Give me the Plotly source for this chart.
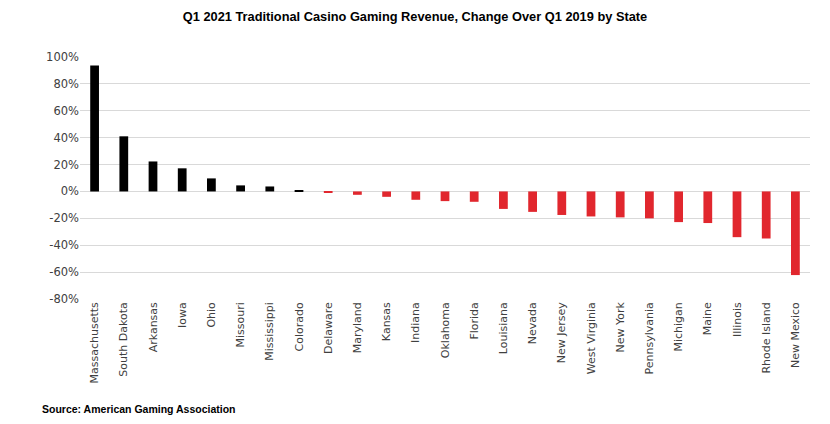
import plotly.graph_objects as go

states = ["Massachusetts", "South Dakota", "Arkansas", "Iowa", "Ohio", "Missouri",
          "Mississippi", "Colorado", "Delaware", "Maryland", "Kansas", "Indiana",
          "Oklahoma", "Florida", "Louisiana", "Nevada", "New Jersey", "West Virginia",
          "New York", "Pennsylvania", "Michigan", "Maine", "Illinois", "Rhode Island",
          "New Mexico"]
change_pct = [93.7, 41.0, 22.3, 17.2, 9.7, 4.5, 3.7, 0.7, -1.0, -2.5, -4.0, -6.2,
              -7.2, -7.7, -13.0, -15.2, -17.5, -18.6, -19.3, -20.0, -22.8, -23.5,
              -34.0, -35.0, -62.2]
y_ticks = [100, 80, 60, 40, 20, 0, -20, -40, -60, -80]

colors = ["#000000" if v >= 0 else "#E1272E" for v in change_pct]

COND = "Liberation Sans Narrow, Liberation Sans, Arial, sans-serif"

fig = go.Figure(go.Bar(x=states, y=change_pct, marker_color=colors,
                       marker_line_width=0, width=0.3))

fig.update_layout(
    width=814, height=408,
    margin=dict(l=72, r=12, t=49, b=117),
    paper_bgcolor="white", plot_bgcolor="white",
    showlegend=False,
    title=dict(text="Q1 2021 Traditional Casino Gaming Revenue, Change Over Q1 2019 by State",
               x=0.5, xanchor="center", y=0.978, yanchor="middle",
               font=dict(family=COND, size=12.8, color="#000000", weight="bold")),
    font=dict(family="DejaVu Sans, sans-serif", size=11, color="#404040"),
)
fig.update_xaxes(tickangle=-90, showgrid=False, showline=False, ticks="",
                 tickfont=dict(size=11, color="#404040"))
fig.update_yaxes(range=[-80, 100], tickvals=y_ticks,
                 ticktext=[f"{v}%" for v in y_ticks],
                 showgrid=True, gridcolor="#d9d9d9", gridwidth=1,
                 zeroline=True, zerolinecolor="#d9d9d9", zerolinewidth=1,
                 showline=False, ticks="", tickfont=dict(size=11.5, color="#404040"))

fig.add_annotation(text="Source: American Gaming Association",
                   xref="paper", yref="paper", x=-0.055, y=-0.455,
                   xanchor="left", yanchor="middle", showarrow=False,
                   font=dict(family=COND, size=10.5, color="#000000", weight="bold"))

fig.write_html("out.html")
